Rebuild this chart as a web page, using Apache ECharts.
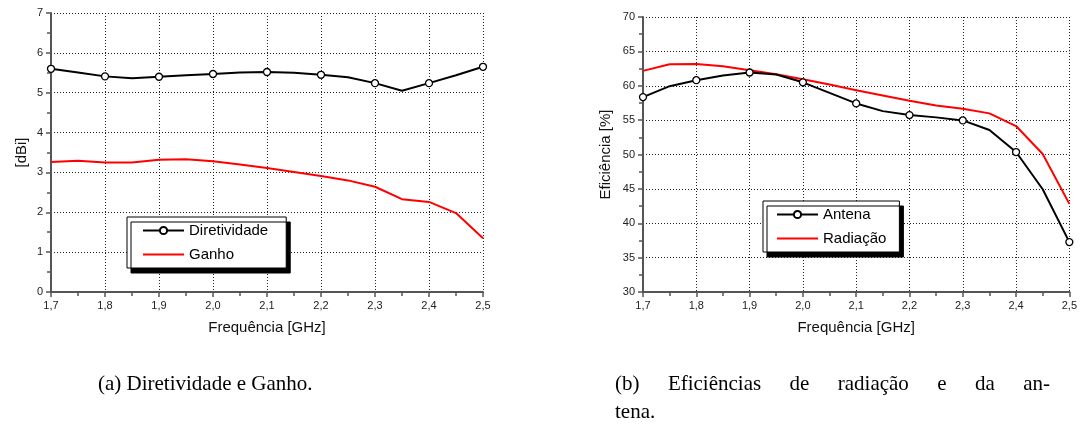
<!DOCTYPE html>
<html>
<head>
<meta charset="utf-8">
<script src="https://cdn.jsdelivr.net/npm/echarts@6/dist/echarts.min.js"></script>
<style>
html,body{margin:0;padding:0;background:#fff;}
#chart{width:1080px;height:442px;}
</style>
</head>
<body>
<div id="chart"></div>
<script>
// ---- data ----
const freq = [1.70,1.75,1.80,1.85,1.90,1.95,2.00,2.05,2.10,2.15,2.20,2.25,2.30,2.35,2.40,2.45,2.50];
const diretividade = [5.60,5.51,5.41,5.36,5.40,5.44,5.47,5.51,5.52,5.50,5.45,5.39,5.24,5.05,5.24,5.44,5.65];
const ganho = [3.26,3.29,3.25,3.25,3.32,3.33,3.28,3.20,3.11,3.01,2.91,2.80,2.64,2.33,2.26,1.98,1.35];
const antena = [58.35,59.94,60.81,61.50,61.93,61.64,60.50,58.97,57.43,56.31,55.73,55.40,54.96,53.56,50.36,44.95,37.26];
const radiacao = [62.16,63.13,63.18,62.84,62.26,61.68,60.96,60.19,59.36,58.59,57.81,57.14,56.65,55.98,54.14,50.07,42.82];
const seriesNamesA = ['Diretividade','Ganho'];
const seriesNamesB = ['Antena','Radiação'];
const xName = 'Frequência [GHz]';
const yNameA = '[dBi]';
const yNameB = 'Eficiência [%]';
const captionA = '(a) Diretividade e Ganho.';
const captionB1 = '(b) Eficiências de radiação e da an-';
const captionB2 = 'tena.';

const sans = 'Liberation Sans';
const serif = 'Liberation Serif';
const capFont = '21px "' + serif + '"';

function withMarkers(ys){
  return freq.map((x,i)=> i%2===0 ? [x, ys[i]] : {value:[x, ys[i]], symbol:'none'});
}
function plain(ys){ return freq.map((x,i)=>[x, ys[i]]); }

function xAxis(gi){
  return {
    type:'value', gridIndex:gi, min:1.7, max:2.5, interval:0.1,
    name:xName, nameLocation:'middle', nameGap:28,
    nameTextStyle:{fontFamily:sans, fontSize:15, color:'#111'},
    axisLine:{show:true, onZero:false, lineStyle:{color:'#555', width:2}},
    axisTick:{show:true, length:5, lineStyle:{color:'#555', width:1.5}},
    minorTick:{show:true, splitNumber:2, length:4, lineStyle:{color:'#555', width:1.5}},
    axisLabel:{fontFamily:sans, fontSize:11, color:'#222', margin:8,
      formatter:v=>v.toFixed(1).replace('.',',')},
    splitLine:{show:true, lineStyle:{color:'#222', type:[1,2], width:1}}
  };
}
function yAxis(gi, min, max, interval, name, gap){
  return {
    type:'value', gridIndex:gi, min:min, max:max, interval:interval,
    name:name, nameLocation:'middle', nameGap:gap, nameRotate:90,
    nameTextStyle:{fontFamily:sans, fontSize:15, color:'#111'},
    axisLine:{show:true, onZero:false, lineStyle:{color:'#555', width:2}},
    axisTick:{show:true, length:5, lineStyle:{color:'#555', width:1.5}},
    minorTick:{show:true, splitNumber:2, length:4, lineStyle:{color:'#555', width:1.5}},
    axisLabel:{fontFamily:sans, fontSize:11, color:'#222', margin:8},
    splitLine:{show:true, lineStyle:{color:'#222', type:[1,2], width:1}}
  };
}
const legendBase = {
  orient:'vertical', backgroundColor:'#fff', borderColor:'#000', borderWidth:1,
  shadowColor:'#000', shadowBlur:0, shadowOffsetX:4, shadowOffsetY:5,
  itemWidth:41, itemHeight:9, itemGap:9,
  textStyle:{fontFamily:sans, fontSize:15, color:'#000'}
};

// caption layout (justify first line of caption b)
const cv = document.createElement('canvas').getContext('2d');
cv.font = capFont;
const wordsB = captionB1.split(' ');
const lineStart = 615, lineEnd = 1050;
const widths = wordsB.map(w=>cv.measureText(w).width);
const gap = (lineEnd - lineStart - widths.reduce((a,b)=>a+b,0)) / (wordsB.length-1);
const graphics = [];
let cx = lineStart;
wordsB.forEach((w,i)=>{
  graphics.push({type:'text', left:cx, top:374, style:{text:w, font:capFont, fill:'#000'}});
  cx += widths[i] + gap;
});
graphics.push({type:'text', left:615, top:402, style:{text:captionB2, font:capFont, fill:'#000'}});
graphics.push({type:'text', left:98, top:374, style:{text:captionA, font:capFont, fill:'#000'}});

const lineStyleBlack = {color:'#000', width:2};
const lineStyleRed = {color:'#ff0000', width:2};
const markerStyle = {color:'#fff', borderColor:'#000', borderWidth:1.3};

const option = {
  animation:false,
  grid:[
    {left:51, top:13, width:432, height:279},
    {left:643, top:17, width:428, height:275}
  ],
  xAxis:[xAxis(0), xAxis(1)],
  yAxis:[yAxis(0,0,7,1,yNameA,22), yAxis(1,30,70,5,yNameB,30)],
  legend:[
    Object.assign({}, legendBase, {left:127, top:217, padding:[6,18,6,15],
      data:[{name:seriesNamesA[0]}, {name:seriesNamesA[1], itemStyle:{opacity:0}}]}),
    Object.assign({}, legendBase, {left:763, top:201, padding:[6,13,6,13],
      data:[{name:seriesNamesB[0]}, {name:seriesNamesB[1], itemStyle:{opacity:0}}]})
  ],
  graphic:graphics,
  series:[
    {name:seriesNamesA[0], type:'line', xAxisIndex:0, yAxisIndex:0, data:withMarkers(diretividade),
     symbol:'circle', symbolSize:7, showAllSymbol:true, lineStyle:lineStyleBlack, itemStyle:markerStyle, color:'#000', z:3},
    {name:seriesNamesA[1], type:'line', xAxisIndex:0, yAxisIndex:0, data:plain(ganho),
     symbol:'none', lineStyle:lineStyleRed, itemStyle:{color:'#ff0000'}, color:'#ff0000', z:2},
    {name:seriesNamesB[0], type:'line', xAxisIndex:1, yAxisIndex:1, data:withMarkers(antena),
     symbol:'circle', symbolSize:7, showAllSymbol:true, lineStyle:lineStyleBlack, itemStyle:markerStyle, color:'#000', z:3},
    {name:seriesNamesB[1], type:'line', xAxisIndex:1, yAxisIndex:1, data:plain(radiacao),
     symbol:'none', lineStyle:lineStyleRed, itemStyle:{color:'#ff0000'}, color:'#ff0000', z:2}
  ]
};
const chart = echarts.init(document.getElementById('chart'), null, {renderer:'canvas'});
chart.setOption(option);
</script>
</body>
</html>
